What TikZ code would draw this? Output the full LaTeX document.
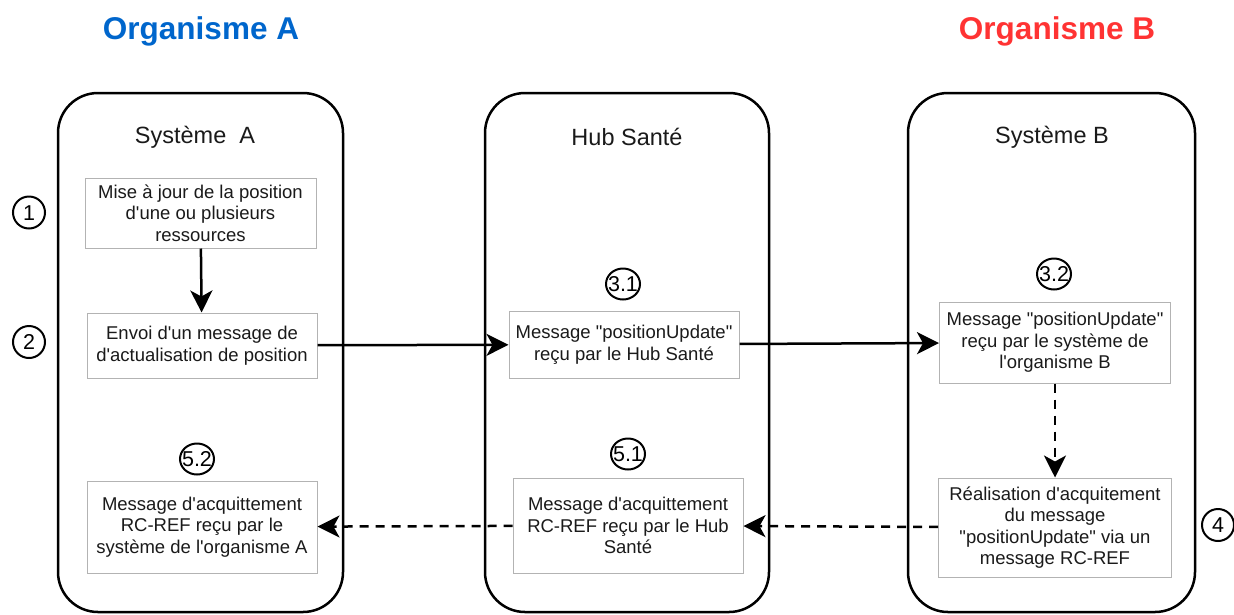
\documentclass[tikz,border=0pt]{standalone}
\usepackage{fontspec}
\setmainfont{Liberation Sans}
\usetikzlibrary{arrows.meta,shapes.geometric}
\definecolor{orgA}{HTML}{0066CC}
\definecolor{orgB}{HTML}{FF3333}
\definecolor{boxgray}{HTML}{B3B3B3}
\definecolor{txtcol}{HTML}{1A1A1A}
\newcommand\apo{\textquotesingle}
\newcommand\dqt{\textquotedbl}
\newcommand\boxfont{\fontsize{18.5}{21.5}\selectfont}
\newcommand\numtxt[1]{\makebox[0pt]{\raisebox{-0.358em}[0pt][0pt]{#1}}}
\tikzset{
  container/.style={draw, line width=2.5pt, rounded corners=40pt, minimum height=519pt},
  msgbox/.style={draw=boxgray, line width=1pt, fill=white, align=center, inner sep=2pt, text=txtcol, font=\boxfont},
  numlabel/.style={draw, ellipse, line width=2pt, minimum width=32pt, minimum height=32pt, inner sep=0pt, font=\fontsize{21.5}{25}\selectfont},
  numwide/.style={numlabel, minimum width=34pt, minimum height=31pt},
  syslabel/.style={font=\fontsize{23.5}{27}\selectfont, text=txtcol},
  orgtitle/.style={font=\fontsize{31.5}{36}\selectfont\bfseries},
  flow/.style={line width=2.5pt, -{Stealth[length=22pt,width=22pt,inset=6pt]}},
  dflow/.style={flow, dash pattern=on 9pt off 7pt}
}
\begin{document}
\begin{tikzpicture}[x=1pt,y=-1pt]
\useasboundingbox (0,0) rectangle (1234,614);
% titles
\node[orgtitle, text=orgA] (titleA) at (201,31) {Organisme A};
\node[orgtitle, text=orgB] (titleB) at (1057,31) {Organisme B};
% containers
\node[container, minimum width=285pt] (sysA) at (200.5,352.5) {};
\node[container, minimum width=284pt] (hub) at (627,352.5) {};
\node[container, minimum width=287pt] (sysB) at (1051.5,352.5) {};
\node[syslabel] (labA) at (195,137) {Système~~A};
\node[syslabel] (labHub) at (627,137) {Hub Santé};
\node[syslabel] (labB) at (1052,137) {Système B};
% message boxes
\node[msgbox, minimum width=231pt, minimum height=70pt] (b1) at (200.5,213)
  {Mise à jour de la position\\d\apo une ou plusieurs\\ressources};
\node[msgbox, minimum width=230pt, minimum height=65pt] (b2) at (202,345.5)
  {Envoi d\apo un message de\\d\apo actualisation de position};
\node[msgbox, minimum width=230pt, minimum height=92pt] (b52) at (202,527)
  {Message d\apo acquittement\\RC-REF reçu par le\\système de l\apo organisme A};
\node[msgbox, minimum width=230pt, minimum height=67pt] (b31) at (624,344.5)
  {Message \dqt positionUpdate\dqt\\reçu par le Hub Santé};
\node[msgbox, minimum width=230pt, minimum height=95pt] (b51) at (628,525.5)
  {Message d\apo acquittement\\RC-REF reçu par le Hub\\Santé};
\node[msgbox, minimum width=231pt, minimum height=81pt] (b32) at (1055,342.5)
  {Message \dqt positionUpdate\dqt\\reçu par le système de\\l\apo organisme B};
\node[msgbox, minimum width=233pt, minimum height=99pt] (b4) at (1055,527.5)
  {Réalisation d\apo acquitement\\du message\\\dqt positionUpdate\dqt{} via un\\message RC-REF};
% step numbers
\node[numlabel] (n1) at (29,212.5) {\numtxt{1}};
\node[numlabel] (n2) at (29,342) {\numtxt{2}};
\node[numwide] (n31) at (623,284) {\numtxt{3.1}};
\node[numwide] (n32) at (1054,274) {\numtxt{3.2}};
\node[numwide] (n51) at (628,454) {\numtxt{5.1}};
\node[numwide] (n52) at (197,459) {\numtxt{5.2}};
\node[numlabel] (n4) at (1218,525) {\numtxt{4}};
% connectors
\draw[flow] (b1) -- (b2);
\draw[flow] (b2) -- (b31);
\draw[flow] (b31) -- (b32);
\draw[dflow] (b32) -- (b4);
\draw[dflow] (b4) -- (b51);
\draw[dflow] (b51) -- (b52);
\end{tikzpicture}
\end{document}
